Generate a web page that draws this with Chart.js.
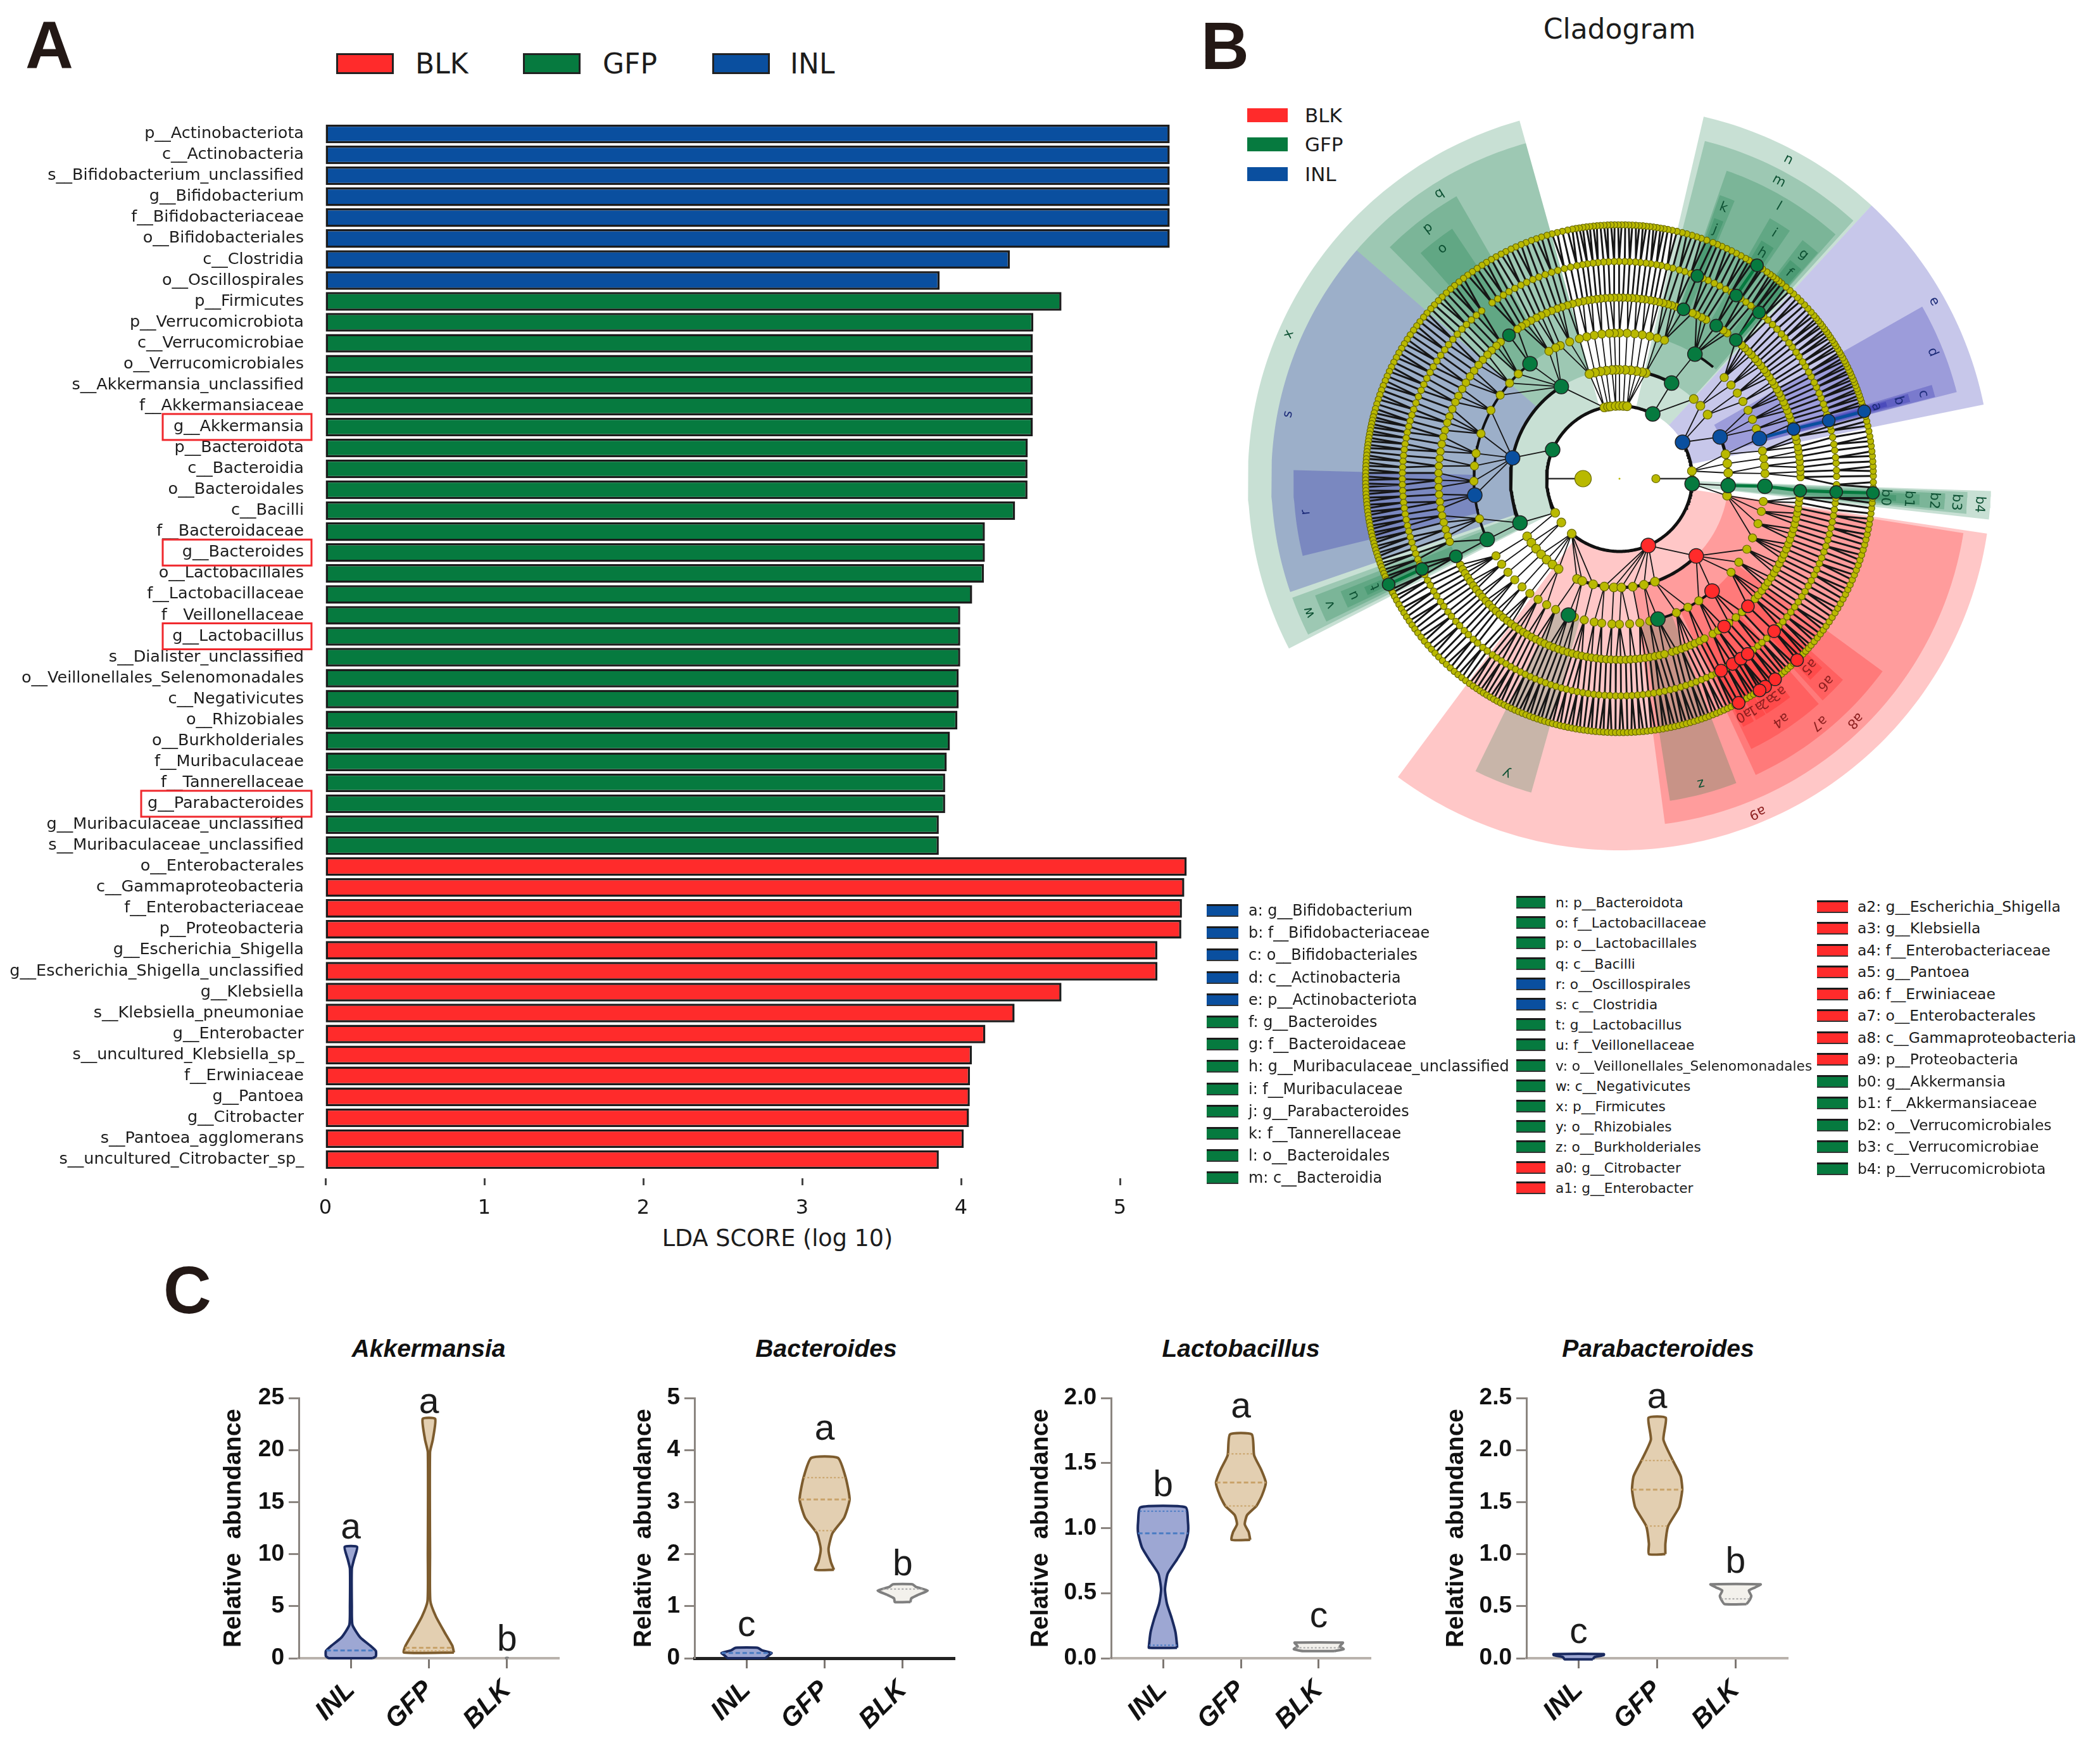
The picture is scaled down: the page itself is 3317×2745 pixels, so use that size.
<!DOCTYPE html>
<html>
<head>
<meta charset="utf-8">
<title>LEfSe and relative abundance</title>
<script src="https://cdn.jsdelivr.net/npm/chart.js@4"></script>
<style>
  html, body { margin: 0; background: #fff; }
  #page { position: relative; width: 3317px; height: 2745px; overflow: hidden; background: #fff; }
  #page canvas { position: absolute; }
  .txt { position: absolute; white-space: pre; line-height: 1; color: #1c1c1c; transform: translateY(-50%); }
  .mid { transform: translate(-50%, -50%); }
  .box { position: absolute; box-sizing: border-box; }
</style>
</head>
<body>
<div id="page"></div>
<script>
// panel A: LDA scores
const inlTaxa = ["p__Actinobacteriota", "c__Actinobacteria", "s__Bifidobacterium_unclassified", "g__Bifidobacterium", "f__Bifidobacteriaceae", "o__Bifidobacteriales", "c__Clostridia", "o__Oscillospirales"];
const inlScores = [5.313, 5.313, 5.313, 5.313, 5.313, 5.313, 4.307, 3.865];
const gfpTaxa = ["p__Firmicutes", "p__Verrucomicrobiota", "c__Verrucomicrobiae", "o__Verrucomicrobiales", "s__Akkermansia_unclassified", "f__Akkermansiaceae", "g__Akkermansia", "p__Bacteroidota", "c__Bacteroidia", "o__Bacteroidales", "c__Bacilli", "f__Bacteroidaceae", "g__Bacteroides", "o__Lactobacillales", "f__Lactobacillaceae", "f__Veillonellaceae", "g__Lactobacillus", "s__Dialister_unclassified", "o__Veillonellales_Selenomonadales", "c__Negativicutes", "o__Rhizobiales", "o__Burkholderiales", "f__Muribaculaceae", "f__Tannerellaceae", "g__Parabacteroides", "g__Muribaculaceae_unclassified", "s__Muribaculaceae_unclassified"];
const gfpScores = [4.632, 4.455, 4.452, 4.452, 4.452, 4.452, 4.452, 4.42, 4.418, 4.418, 4.34, 4.15, 4.15, 4.144, 4.07, 3.995, 3.995, 3.995, 3.985, 3.985, 3.977, 3.93, 3.91, 3.9, 3.9, 3.86, 3.86];
const blkTaxa = ["o__Enterobacterales", "c__Gammaproteobacteria", "f__Enterobacteriaceae", "p__Proteobacteria", "g__Escherichia_Shigella", "g__Escherichia_Shigella_unclassified", "g__Klebsiella", "s__Klebsiella_pneumoniae", "g__Enterobacter", "s__uncultured_Klebsiella_sp_", "f__Erwiniaceae", "g__Pantoea", "g__Citrobacter", "s__Pantoea_agglomerans", "s__uncultured_Citrobacter_sp_"];
const blkScores = [5.42, 5.405, 5.39, 5.386, 5.235, 5.236, 4.632, 4.337, 4.153, 4.068, 4.056, 4.055, 4.05, 4.017, 3.86];
const ldaTicks = [0, 1, 2, 3, 4, 5];
const boxedTaxa = ["g__Akkermansia", "g__Bacteroides", "g__Lactobacillus", "g__Parabacteroides"];

// panel B: key of the cladogram
const keyColA = ["a: g__Bifidobacterium", "b: f__Bifidobacteriaceae", "c: o__Bifidobacteriales", "d: c__Actinobacteria", "e: p__Actinobacteriota", "f: g__Bacteroides", "g: f__Bacteroidaceae", "h: g__Muribaculaceae_unclassified", "i: f__Muribaculaceae", "j: g__Parabacteroides", "k: f__Tannerellaceae", "l: o__Bacteroidales", "m: c__Bacteroidia"];
const keyColAGroups = "IIIIIGGGGGGGG";
const keyColB = ["n: p__Bacteroidota", "o: f__Lactobacillaceae", "p: o__Lactobacillales", "q: c__Bacilli", "r: o__Oscillospirales", "s: c__Clostridia", "t: g__Lactobacillus", "u: f__Veillonellaceae", "v: o__Veillonellales_Selenomonadales", "w: c__Negativicutes", "x: p__Firmicutes", "y: o__Rhizobiales", "z: o__Burkholderiales", "a0: g__Citrobacter", "a1: g__Enterobacter"];
const keyColBGroups = "GGGGIIGGGGGGGBB";
const keyColC = ["a2: g__Escherichia_Shigella", "a3: g__Klebsiella", "a4: f__Enterobacteriaceae", "a5: g__Pantoea", "a6: f__Erwiniaceae", "a7: o__Enterobacterales", "a8: c__Gammaproteobacteria", "a9: p__Proteobacteria", "b0: g__Akkermansia", "b1: f__Akkermansiaceae", "b2: o__Verrucomicrobiales", "b3: c__Verrucomicrobiae", "b4: p__Verrucomicrobiota"];
const keyColCGroups = "BBBBBBBBGGGGG";

// cladogram clades: label, group, from degree, to degree, tree level
const cladeWedges = [
  ["e", "I", 11.5, 47.3, 2], ["d", "I", 14.4, 29.6, 3], ["c", "I", 14.5, 16.7, 4], ["b", "I", 14.8, 16.4, 5], ["a", "I", 15.1, 16.1, 6],
  ["n", "G", 47.3, 76.9, 2], ["m", "G", 47.8, 75.8, 3], ["l", "G", 48.5, 70.8, 4], ["k", "G", 67.5, 70.5, 5], ["j", "G", 68, 70, 6], ["i", "G", 55.5, 60, 5], ["h", "G", 56.2, 59.2, 6], ["g", "G", 48.7, 52.5, 5], ["f", "G", 49, 52, 6],
  ["x", "G", 105.6, 207.2, 2], ["s", "I", 139, 199, 3], ["r", "I", 178.5, 193.7, 4], ["q", "G", 105.6, 139, 3], ["p", "G", 120, 134.8, 4], ["o", "G", 123.8, 131.4, 5],
  ["w", "G", 200, 206.6, 3], ["v", "G", 201, 206, 4], ["u", "G", 202, 205.4, 5], ["t", "G", 203, 204.8, 6],
  ["a9", "B", 233.4, 351.5, 2], ["y", "G", 243.8, 254.3, 4], ["a8", "B", 277.5, 351, 3], ["z", "G", 278.9, 291, 4], ["a7", "B", 294.7, 323.8, 4],
  ["a4", "B", 296, 311.5, 5], ["a6", "B", 312.5, 318, 5], ["a5", "B", 313.5, 317, 6], ["a3", "B", 305, 308, 6], ["a2", "B", 302, 305, 6], ["a1", "B", 299.5, 301.8, 6], ["a0", "B", 296.5, 299, 6],
  ["b4", "G", 353.7, 358.1, 2], ["b3", "G", 354.2, 357.8, 3], ["b2", "G", 354.6, 357.4, 4], ["b1", "G", 355, 357, 5], ["b0", "G", 355.4, 356.6, 6]
];
// bold curves of the tree: level, from degree, to degree
const cladeArcs = [[2, 58, 208], [2, 229, 356], [2, -10, 30], [3, 122, 204], [3, 250, 315], [3, 61, 84], [3, -5, 22], [4, 128, 205], [4, 285, 310], [4, 50, 59], [5, 305, 316]];

// biomarker nodes: level, degree
const inlNodes = [[2, 30], [3, 22.5], [4, 16], [5, 15.9], [6, 15.5], [7, 15.4], [3, 169], [4, 186.5]];
const gfpNodes = [[2, 156.6], [2, 62.8], [2, 356], [3, 122.3], [3, 61.4], [3, 204], [3, 356.4], [4, 127.9], [4, 58.8], [4, 204.7], [4, 357], [4, 285.3], [4, 249.5], [5, 127.6], [5, 69.3], [5, 57.7], [5, 50], [5, 205.4], [5, 356.2], [6, 204.6], [6, 69], [6, 57.5], [6, 50], [6, 356.5], [7, 204.6], [7, 57.2], [7, 356.8]];
const blkNodes = [[2, 293.3], [3, 314.8], [4, 309.5], [5, 315.2], [5, 305.3], [6, 315.4], [6, 297.9], [6, 301.4], [6, 304], [6, 306.2], [7, 314.4], [7, 307.8], [7, 305], [7, 303.5], [7, 298]];
// branches drawn in the group colour: child level, child degree, parent degree, group
const colouredBranches = [[5, 15.9, 16, "I"], [6, 15.5, 15.9, "I"], [7, 15.4, 15.5, "I"], [4, 357, 356.4, "G"], [5, 356.2, 357, "G"], [6, 356.5, 356.2, "G"], [7, 356.8, 356.5, "G"], [7, 204.6, 204.6, "G"], [7, 57.2, 57.5, "G"], [6, 50, 50, "G"]];

// other nodes of each tree level, in degrees
const kingdomNodes = [180, 0];
const phylumNodes = [6, 359, 102, 99, 97, 93, 90, 87, 84, 208, 217, 229];
const classNodes = [3, 8, 13, 36, 42, 47, 76, 78, 81, 84, 87, 90, 92, 94, 97, 100, 103, 106, 212, 216, 220, 224, 228, 232, 236, 247, 250, 256, 262, 267, 271, 277, 283, 289, 351];
const orderNodes = [2, 5, 8, 11, 20, 24, 28, 32, 36, 40, 44, 72, 75, 78, 81, 84, 87, 90, 92, 94, 97, 100, 103, 106, 110, 114, 116, 119, 134, 139, 145, 152, 162, 170, 175, 181, 196, 212, 216, 220, 224, 228, 232, 236, 240, 244, 252, 256, 260, 263, 267, 270, 274, 278, 282, 293, 298, 303, 320, 325, 331, 336, 342, 347, 351];
const familyNodes = [0.5, 2.2, 3.6, 5.4, 7, 8.7, 10.1, 12, 13.4, 17.6, 19.2, 20.5, 22.1, 23.6, 25, 26.7, 28.1, 29.6, 31.2, 32.5, 34.1, 35.7, 37, 38.6, 40.1, 41.5, 43.2, 44.6, 46.2, 47.5, 53.5, 55, 61.4, 63, 64.8, 66.2, 71.8, 73.2, 74.5, 76, 77.4, 78.9, 80.2, 81.8, 83.1, 84.6, 86, 87.4, 88.9, 90.2, 91.7, 93, 94.5, 95.9, 97.3, 98.8, 100.1, 101.6, 103.2, 105, 106.7, 108.5, 110.1, 112, 113.8, 115.6, 117.3, 119.2, 121, 122.7, 124.3, 131, 132.8, 134.9, 136.8, 139, 141.1, 143.4, 145.6, 148, 150.3, 152.8, 155, 157.4, 159.9, 162, 164.5, 166.7, 169, 171.4, 173.6, 176, 178.2, 180.5, 182.7, 185, 187.3, 189.5, 191.8, 194, 196.3, 198.5, 200.4, 208.4, 210, 211.5, 213.1, 214.6, 216.2, 217.7, 219.3, 220.8, 222.4, 223.9, 225.5, 227, 228.6, 230.1, 231.7, 233.2, 234.8, 236.3, 237.9, 239.4, 241, 242.5, 244.1, 245.6, 247.2, 248.7, 250.3, 251.8, 253.4, 254.9, 256.5, 258, 259.6, 261.1, 262.7, 264.2, 265.8, 267.3, 268.9, 270.4, 272, 273.5, 275.1, 276.6, 278.2, 279.7, 281.3, 282.8, 284.4, 286.9, 288.4, 290, 291.5, 293.1, 294.6, 296.3, 298, 301, 303, 307.2, 310, 312.6, 318.4, 320, 321.8, 323.5, 325.1, 326.9, 328.6, 330.2, 332, 333.7, 335.3, 337.1, 338.8, 340.4, 342.2, 343.9, 345.5, 347.3, 349, 350.6, 352.4, 354];
const genusNodes = [0.6, 2.2, 4.1, 5.6, 7.5, 9.1, 11, 12.8, 14, 17.2, 18.7, 20.1, 21.8, 23.2, 24.9, 26.3, 28, 29.4, 31.1, 32.5, 34.2, 35.6, 37.3, 38.7, 40.4, 41.8, 43.5, 45.2, 46.9, 48.4, 51.3, 52.8, 54.4, 56, 59, 60.7, 62.5, 64.1, 65.9, 67.4, 70.8, 72.5, 74, 75.8, 77.3, 78.9, 80.2, 81.7, 83, 84.5, 85.8, 87.3, 88.6, 90.1, 91.4, 92.9, 94.2, 95.7, 97, 98.5, 99.8, 101.3, 103, 104.7, 106.5, 108.2, 110, 111.8, 113.5, 115.3, 117, 118.8, 120.6, 122.3, 124.1, 125.9, 129.4, 131.2, 133, 134.8, 136.5, 138.3, 140.1, 141.9, 143.6, 145.4, 147.2, 149, 150.7, 152.5, 154.3, 156, 157.8, 159.6, 161.4, 163, 164.6, 166.1, 167.7, 169.2, 170.8, 172.3, 173.9, 175.4, 177, 178.5, 180.1, 181.6, 183.2, 184.7, 186.3, 187.8, 189.4, 190.9, 192.5, 194, 195.6, 197.1, 198.7, 200.2, 201.8, 203.2, 206.2, 207.9, 209.4, 211.2, 212.7, 214.5, 216, 217.8, 219.3, 221.1, 222.6, 224.4, 225.9, 227.7, 229.2, 231, 232.5, 234.2, 235.6, 237.1, 238.5, 240, 241.4, 242.9, 244.3, 245.8, 247.2, 248.7, 250.1, 251.6, 253, 254.5, 255.9, 257.4, 258.8, 260.3, 261.7, 263.2, 264.6, 266.1, 267.5, 269, 270.4, 271.9, 273.3, 274.8, 276.2, 277.7, 279.1, 280.6, 282, 283.5, 284.9, 286.4, 287.8, 289.3, 290.7, 292.2, 293.6, 295.1, 296.5, 299.6, 302.8, 308, 309.6, 311, 312.7, 317.2, 318.8, 320.5, 322.1, 323.8, 325.4, 327.1, 328.7, 330.4, 332, 333.7, 335.3, 337, 338.6, 340.3, 341.9, 343.6, 345.2, 346.9, 348.5, 350.2, 351.8, 353.5, 354.9, 358.4];
const speciesNodes = [0.6, 1.7, 2.8, 3.9, 5.1, 6.2, 7.4, 8.5, 9.6, 10.8, 12, 13.1, 14.2, 16.8, 17.6, 18.4, 19.2, 20, 20.7, 21.5, 22.3, 23, 23.8, 24.6, 25.3, 26.1, 26.9, 27.6, 28.4, 29.2, 29.9, 30.7, 31.5, 32.2, 33, 33.8, 34.6, 35.3, 36.1, 36.9, 37.6, 38.4, 39.2, 40, 41, 42.1, 43.2, 44.4, 45.5, 46.7, 47.8, 49, 50.3, 51.1, 51.9, 52.8, 53.6, 54.5, 55.7, 56.3, 58.4, 59.3, 60.2, 61.4, 62.6, 63.8, 65, 66.2, 67.3, 68.4, 69.9, 71.2, 72.3, 73.4, 74.6, 75.7, 76.9, 78, 79, 79.9, 80.7, 81.5, 82.3, 83.1, 83.9, 84.7, 85.5, 86.3, 87.1, 87.9, 88.7, 89.5, 90.3, 91.1, 91.9, 92.7, 93.5, 94.3, 95.1, 95.9, 96.7, 97.5, 98.3, 99.1, 99.9, 100.7, 101.8, 103, 104.2, 105.4, 106.6, 107.9, 109.1, 110.3, 111.6, 112.8, 114.1, 115.3, 116.6, 117.8, 119.1, 120.3, 121.6, 122.8, 124.1, 125.4, 126.7, 127.9, 129.2, 130.5, 131.7, 133, 134.3, 135.5, 136.8, 138, 139.3, 140.5, 141.8, 143, 144.2, 145.5, 146.7, 147.9, 149.1, 150.3, 151.5, 152.7, 153.9, 155, 156.2, 157.3, 158.5, 159.6, 160.7, 161.8, 162.9, 164, 165, 165.9, 166.7, 167.5, 168.3, 169.1, 169.9, 170.7, 171.5, 172.3, 173.1, 173.9, 174.7, 175.5, 176.3, 177.1, 177.9, 178.7, 179.5, 180.3, 181.1, 181.9, 182.7, 183.5, 184.3, 185.1, 185.9, 186.7, 187.5, 188.3, 189.1, 189.9, 190.7, 191.5, 192.3, 193.1, 193.9, 194.7, 195.5, 196.3, 197.1, 197.9, 198.7, 199.5, 200.3, 201.1, 201.9, 202.7, 203.5, 205.9, 206.7, 207.6, 208.6, 209.7, 210.8, 211.9, 213, 214.1, 215.2, 216.3, 217.4, 218.6, 219.8, 221, 222.2, 223.4, 224.6, 225.8, 227, 228.2, 229.4, 230.5, 231.6, 232.7, 233.8, 234.8, 235.8, 236.7, 237.6, 238.5, 239.4, 240.3, 241.2, 242.1, 243, 243.9, 244.8, 245.7, 246.6, 247.5, 248.4, 249.3, 250.2, 251.1, 252, 252.9, 253.8, 254.7, 255.6, 256.5, 257.4, 258.3, 259.2, 260.1, 261, 261.9, 262.8, 263.7, 264.6, 265.5, 266.4, 267.3, 268.2, 269.1, 270, 270.9, 271.8, 272.7, 273.6, 274.5, 275.4, 276.3, 277.2, 278.1, 279, 279.9, 280.8, 281.7, 282.6, 283.5, 284.4, 285.3, 286.2, 287.1, 288, 288.9, 289.8, 290.7, 291.6, 292.5, 293.4, 294.3, 295.2, 296.1, 297, 299.2, 300.1, 301, 301.9, 302.6, 304.2, 306.1, 306.9, 308.8, 309.7, 310.6, 311.5, 312.4, 313.3, 315.4, 316.3, 317.2, 318.1, 319, 320.1, 321.2, 322.3, 323.4, 324.5, 325.7, 326.9, 328.1, 329.3, 330.5, 331.7, 332.9, 334.1, 335.3, 336.5, 337.7, 338.9, 340.1, 341.3, 342.5, 343.7, 344.9, 346.1, 347.3, 348.5, 349.7, 350.9, 352.1, 353.3, 354.5, 355.6, 358, 359.2];

// panel C: violins, outline as level and half width in category units
const groups = ["INL", "GFP", "BLK"];

const akkTicks = [0, 5, 10, 15, 20, 25];
const akkInlY = [0, 0.2, 0.7, 1.2, 2, 3.2, 5, 8.6, 9.5, 10.7];
const akkInlW = [0.28, 0.32, 0.32, 0.25, 0.12, 0.02, 0.012, 0.012, 0.04, 0.08];
const akkInlQ = [0.75];
const akkGfpY = [0.55, 1.2, 2.5, 4, 5.5, 10, 19.8, 21, 23];
const akkGfpW = [0.32, 0.3, 0.2, 0.09, 0.018, 0.014, 0.014, 0.05, 0.08];
const akkGfpQ = [0.7, 1];
const akkBlkY = [0, 0.03];
const akkBlkW = [0.01, 0.01];
const akkBlkQ = [];
const akkLetters = ["a", "a", "b"];
const akkLetterY = [11.5, 23.56, 0.72];

const bacTicks = [0, 1, 2, 3, 4, 5];
const bacInlY = [0, 0.05, 0.1, 0.15, 0.2];
const bacInlW = [0.24, 0.28, 0.32, 0.2, 0.14];
const bacInlQ = [0.1];
const bacGfpY = [1.7, 1.85, 2.1, 2.4, 2.7, 3.05, 3.47, 3.85];
const bacGfpW = [0.12, 0.08, 0.05, 0.1, 0.25, 0.32, 0.27, 0.17];
const bacGfpQ = [2.45, 3.05, 3.47];
const bacBlkY = [1.08, 1.15, 1.22, 1.3, 1.37, 1.42];
const bacBlkW = [0.1, 0.11, 0.2, 0.32, 0.17, 0.125];
const bacBlkQ = [1.33];
const bacLetters = ["c", "a", "b"];
const bacLetterY = [0.43, 4.2, 1.59];

const lacTicks = [0, 0.5, 1, 1.5, 2];
const lacInlY = [0.08, 0.1, 0.2, 0.31, 0.42, 0.53, 0.65, 0.76, 0.85, 0.96, 1.05, 1.16];
const lacInlW = [0.18, 0.18, 0.16, 0.11, 0.05, 0.025, 0.06, 0.18, 0.27, 0.32, 0.32, 0.29];
const lacInlQ = [0.1, 0.96, 1.13];
const lacGfpY = [0.91, 0.97, 1.03, 1.1, 1.17, 1.25, 1.35, 1.45, 1.56, 1.72];
const lacGfpW = [0.12, 0.1, 0.05, 0.08, 0.2, 0.27, 0.32, 0.26, 0.17, 0.14];
const lacGfpQ = [1.17, 1.35, 1.57];
const lacBlkY = [0.055, 0.07, 0.09, 0.105, 0.12];
const lacBlkW = [0.2, 0.32, 0.27, 0.29, 0.31];
const lacBlkQ = [0.08];
const lacLetters = ["b", "a", "c"];
const lacLetterY = [1.245, 1.85, 0.24];

const parTicks = [0, 0.5, 1, 1.5, 2, 2.5];
const parInlY = [-0.01, 0.01, 0.03, 0.04];
const parInlW = [0.18, 0.2, 0.32, 0.32];
const parInlQ = [];
const parGfpY = [1, 1.1, 1.27, 1.45, 1.62, 1.75, 1.9, 2.1, 2.31];
const parGfpW = [0.105, 0.105, 0.14, 0.28, 0.32, 0.3, 0.2, 0.08, 0.11];
const parGfpQ = [1.27, 1.62, 1.9];
const parBlkY = [0.52, 0.56, 0.6, 0.65, 0.68, 0.71];
const parBlkW = [0.14, 0.18, 0.2, 0.17, 0.25, 0.32];
const parBlkQ = [0.57];
const parLetters = ["c", "a", "b"];
const parLetterY = [0.144, 2.4, 0.823];

Chart.defaults.animation = false;
Chart.defaults.devicePixelRatio = 1;
Chart.defaults.responsive = false;
Chart.defaults.layout.autoPadding = false;
Chart.defaults.plugins.legend.display = false;
Chart.defaults.plugins.tooltip.enabled = false;

const RED = "#ff2b2b", GREEN = "#067a3f", BLUE = "#0a4f9f";
const groupColor = { I: BLUE, G: GREEN, B: RED };
const page = document.getElementById("page");

function addCanvas(left, top, width, height) {
  const c = document.createElement("canvas");
  c.width = width;
  c.height = height;
  c.style.left = left + "px";
  c.style.top = top + "px";
  page.appendChild(c);
  return c.getContext("2d");
}

function addText(text, x, y, font, extra) {
  const el = document.createElement("div");
  el.className = "txt" + (extra && extra.mid ? " mid" : "");
  el.textContent = text;
  el.style.left = x + "px";
  el.style.top = y + "px";
  el.style.font = font;
  if (extra && extra.color) el.style.color = extra.color;
  page.appendChild(el);
}

function addBox(x, y, w, h, color, border) {
  const el = document.createElement("div");
  el.className = "box";
  el.style.cssText = `left:${x}px;top:${y}px;width:${w}px;height:${h}px;background:${color};${border || ""}`;
  page.appendChild(el);
}

// panel letters
const letterFont = 'bold 105px "Liberation Sans"';
addText("A", 40, 72, letterFont, { color: "#231815" });
addText("B", 1897, 73, letterFont, { color: "#231815" });
addText("C", 258, 2038, letterFont, { color: "#231815" });

// ---------- panel A ----------
const blkLegendFont = '44px "DejaVu Sans"';
[["BLK", RED, 531, 656], ["GFP", GREEN, 826, 952], ["INL", BLUE, 1125, 1248]].forEach(([name, color, bx, tx]) => {
  addBox(bx, 84, 91, 33, color, "border:3px solid #222;");
  addText(name, tx, 100, blkLegendFont);
});
addText("LDA SCORE (log 10)", 1228, 1955, '36.6px "DejaVu Sans"', { mid: true });

const taxa = inlTaxa.concat(gfpTaxa, blkTaxa);
const pad = n => new Array(n).fill(null);

const boxLabels = {
  id: "boxLabels",
  afterDraw(chart) {
    const { ctx, scales: { y } } = chart;
    ctx.save();
    ctx.strokeStyle = "#f0282d";
    ctx.lineWidth = 3;
    boxedTaxa.forEach(name => {
      const py = y.getPixelForValue(taxa.indexOf(name));
      const left = name === "g__Parabacteroides" ? 223 : 257;
      ctx.strokeRect(left, py - 20.5, 492 - left, 41);
    });
    ctx.restore();
  }
};

// canvas starts high enough that the tick label padding does not push the plot area down
new Chart(addCanvas(0, 120, 1920, 1855), {
  type: "bar",
  data: {
    labels: taxa,
    datasets: [
      { label: "INL", data: inlScores, backgroundColor: BLUE },
      { label: "GFP", data: pad(inlTaxa.length).concat(gfpScores), backgroundColor: GREEN },
      { label: "BLK", data: pad(inlTaxa.length + gfpTaxa.length).concat(blkScores), backgroundColor: RED }
    ].map(d => Object.assign(d, { borderColor: "#1c1c1c", borderWidth: 3.5, borderSkipped: false, barPercentage: 0.89, categoryPercentage: 1 }))
  },
  options: {
    indexAxis: "y",
    layout: { padding: { top: 75, right: 25.5, left: 0, bottom: 0 } },
    scales: {
      y: {
        stacked: true,
        grid: { display: false, drawTicks: false },
        border: { display: false },
        afterFit: s => { s.width = 514; },
        ticks: { autoSkip: false, padding: 34, color: "#1c1c1c", font: { family: "DejaVu Sans", size: 25.5 } }
      },
      x: {
        stacked: true,
        min: 0,
        max: 5.5,
        afterBuildTicks: s => { s.ticks = ldaTicks.map(v => ({ value: v })); },
        afterFit: s => { s.height = 127; },
        border: { display: false },
        grid: { drawOnChartArea: false, tickLength: 24, tickColor: "#444", tickWidth: 3, tickBorderDash: [11, 13], tickBorderDashOffset: 11 },
        ticks: { padding: 17, color: "#1c1c1c", font: { family: "DejaVu Sans", size: 32 } }
      }
    }
  },
  plugins: [boxLabels]
});

// ---------- panel B ----------
addText("Cladogram", 2558, 45, '44px "DejaVu Sans"', { mid: true });
[["BLK", RED, 182], ["GFP", GREEN, 228], ["INL", BLUE, 275]].forEach(([name, color, y]) => {
  addBox(1970, y - 11, 64, 22, color);
  addText(name, 2061, y, '31px "DejaVu Sans"');
});

function addKey(list, groupsOf, sx, sw, tx, y0, step, size) {
  list.forEach((t, i) => {
    const y = y0 + i * step;
    addBox(sx, y - 10, sw, 20, groupColor[groupsOf[i]], "border-top:3px solid #1c1c1c;border-bottom:2px solid #333;");
    addText(t, tx, y, size + 'px "DejaVu Sans"');
  });
}
addKey(keyColA, keyColAGroups, 1906, 50, 1972, 1438, 35.2, 23.9);
addKey(keyColB, keyColBGroups, 2395, 46, 2457, 1425, 32.2, 21.7);
addKey(keyColC, keyColCGroups, 2870, 49, 2934, 1431.5, 34.5, 23.4);

const ringRadius = [0, 57.5, 115, 172, 230, 286, 343, 401];
const wedgeOuter = [0, 0, 587, 550, 515, 475, 438];
const polarAt = (r, deg) => ({ x: r * Math.cos(deg * Math.PI / 180), y: r * Math.sin(deg * Math.PI / 180) });
const levelNodes = [[0], kingdomNodes, phylumNodes, classNodes, orderNodes, familyNodes, genusNodes, speciesNodes];
const marked = inlNodes.map(n => n.concat("I")).concat(gfpNodes.map(n => n.concat("G")), blkNodes.map(n => n.concat("B")));
const allAt = level => levelNodes[level].concat(marked.filter(n => n[0] === level).map(n => n[1]));
const arcGap = (a, b) => Math.abs(((a - b + 540) % 360) - 180);
const nearest = (list, deg) => list.reduce((best, v) => arcGap(v, deg) < arcGap(best, deg) ? v : best, list[0]);
const BREAK = { x: NaN, y: NaN };

function arcPoints(r, from, to) {
  const pts = [];
  const n = Math.max(2, Math.ceil(Math.abs(to - from)));
  for (let i = 0; i <= n; i++) pts.push(polarAt(r, from + (to - from) * i / n));
  return pts;
}

function linkPoints(level) {
  const parents = allAt(level - 1);
  const pts = [];
  allAt(level).forEach(deg => {
    pts.push(polarAt(ringRadius[level - 1], nearest(parents, deg)), polarAt(ringRadius[level], deg), BREAK);
  });
  return pts;
}

const shade = { I: "rgba(0,0,160,0.22)", G: "rgba(5,113,60,0.22)", B: "rgba(255,0,0,0.22)" };
const inkOf = { I: "#1b2a78", G: "#0d5133", B: "#8c1f1f" };
const YELLOW = { pointBackgroundColor: "#b9b900", pointBorderColor: "#696900", pointBorderWidth: 1.2 };

// pushed in paint order, reversed at the end since Chart.js paints the first dataset last
const cladoSets = [];
cladeWedges.forEach(([label, group, from, to, level]) => {
  const pts = arcPoints(wedgeOuter[level], from, to).concat(arcPoints(ringRadius[level], to, from));
  pts.push(pts[0]);
  cladoSets.push({ label, data: pts, showLine: true, fill: "shape", backgroundColor: shade[group], borderWidth: 0, pointRadius: 0 });
});
[[3, 1.8], [4, 1.8], [5, 2.2], [6, 2.8], [7, 3]].forEach(([level, width]) => {
  cladoSets.push({ data: linkPoints(level), showLine: true, borderColor: "#161616", borderWidth: width, pointRadius: 0 });
});
const spokes = [];
kingdomNodes.forEach(deg => spokes.push(polarAt(ringRadius[1], deg), polarAt(ringRadius[2], deg), BREAK));
cladoSets.push({ data: spokes, showLine: true, borderColor: "#333", borderWidth: 2.5, pointRadius: 0 });
cladeArcs.forEach(([level, from, to]) => {
  cladoSets.push({ data: arcPoints(ringRadius[level], from, to), showLine: true, borderColor: "#111", borderWidth: level < 4 ? 5 : 4, pointRadius: 0 });
});
colouredBranches.forEach(([level, deg, parent, group]) => {
  cladoSets.push({ data: [polarAt(ringRadius[level - 1], parent), polarAt(ringRadius[level], deg)], showLine: true, borderColor: groupColor[group], borderWidth: 5, pointRadius: 0 });
});
[[7, 5], [6, 5.2], [5, 6], [4, 6.5], [3, 7], [2, 7]].forEach(([level, radius]) => {
  cladoSets.push(Object.assign({ data: levelNodes[level].map(d => polarAt(ringRadius[level], d)), pointRadius: radius }, YELLOW));
});
cladoSets.push(Object.assign({ data: [polarAt(57.5, 180)], pointRadius: 13 }, YELLOW));
cladoSets.push(Object.assign({ data: [polarAt(57.5, 0)], pointRadius: 6.5 }, YELLOW));
cladoSets.push({ data: [{ x: 0, y: 0 }], pointRadius: 1.5, pointBackgroundColor: "#b9b900", pointBorderWidth: 0 });
["I", "G", "B"].forEach(group => {
  [2, 3, 4, 5, 6, 7].forEach(level => {
    const pts = marked.filter(n => n[0] === level && n[2] === group).map(n => polarAt(ringRadius[level], n[1]));
    if (pts.length) cladoSets.push({ data: pts, pointRadius: level < 5 ? 11.5 : 10, pointBackgroundColor: groupColor[group], pointBorderColor: "#222", pointBorderWidth: 1.5 });
  });
});

const wedgeLabels = {
  id: "wedgeLabels",
  afterDatasetsDraw(chart) {
    const { ctx, scales: { x, y } } = chart;
    ctx.save();
    ctx.font = '21px "DejaVu Sans"';
    ctx.textAlign = "center";
    ctx.textBaseline = "middle";
    cladeWedges.forEach(([label, group, from, to, level]) => {
      const mid = (from + to) / 2;
      const at = polarAt(wedgeOuter[level] - 17, mid);
      ctx.save();
      ctx.translate(x.getPixelForValue(at.x), y.getPixelForValue(at.y));
      ctx.rotate((90 - mid) * Math.PI / 180);
      ctx.fillStyle = inkOf[group];
      ctx.fillText(label, 0, 0);
      ctx.restore();
    });
    ctx.restore();
  }
};

new Chart(addCanvas(1900, 0, 1417, 1400), {
  type: "scatter",
  data: { datasets: cladoSets.reverse() },
  options: {
    layout: { padding: 0 },
    scales: {
      x: { type: "linear", display: false, min: -658, max: 759 },
      y: { type: "linear", display: false, min: -644, max: 756 }
    }
  },
  plugins: [wedgeLabels]
});

// ---------- panel C ----------
const violinStyle = [
  { fill: "#9da7d3", line: "#1a2a60", mid: "#4a7cc4" },
  { fill: "#e3cfb1", line: "#7d5c2e", mid: "#c9a36a" },
  { fill: "#f3f1ec", line: "#7f7f7f", mid: "#a7a7a7" }
];

function outline(center, ys, ws) {
  const right = ys.map((y, i) => ({ x: center + ws[i], y }));
  const left = ys.map((y, i) => ({ x: center - ws[i], y })).reverse();
  const pts = right.concat(left);
  pts.push(pts[0]);
  return pts;
}

function widthAt(ys, ws, q) {
  for (let i = 1; i < ys.length; i++) {
    if (q <= ys[i]) return ws[i - 1] + (ws[i] - ws[i - 1]) * (q - ys[i - 1]) / (ys[i] - ys[i - 1]);
  }
  return ws[ws.length - 1];
}

function drawViolins(cfg) {
  const sets = [];
  const bottom = 2619, top = 2208;
  cfg.shapes.forEach(([ys, ws, qs], g) => {
    qs.forEach(q => {
      const w = widthAt(ys, ws, q);
      sets.push({ data: [{ x: g - w, y: q }, { x: g + w, y: q }], showLine: true, clip: false, borderColor: violinStyle[g].mid, borderWidth: q === cfg.medians[g] ? 3 : 2, borderDash: q === cfg.medians[g] ? [7, 4] : [3, 3], pointRadius: 0 });
    });
  });
  cfg.shapes.forEach(([ys, ws], g) => {
    sets.push({ data: outline(g, ys, ws), showLine: true, clip: false, fill: "shape", tension: 0.18, backgroundColor: violinStyle[g].fill, borderColor: violinStyle[g].line, borderWidth: 4, pointRadius: 0 });
  });

  const letterPlugin = {
    id: "letters",
    afterDatasetsDraw(chart) {
      const { ctx, scales: { x, y } } = chart;
      ctx.save();
      ctx.font = '57px "Liberation Sans"';
      ctx.textAlign = "center";
      ctx.textBaseline = "alphabetic";
      ctx.fillStyle = "#1c1c1c";
      cfg.letters.forEach((t, i) => ctx.fillText(t, x.getPixelForValue(i), y.getPixelForValue(cfg.letterY[i])));
      ctx.restore();
    }
  };

  const canvasLeft = cfg.axisX - cfg.axisGap - 23;
  const axisRight = cfg.axisX + cfg.plotWidth;
  new Chart(addCanvas(canvasLeft, 2170, axisRight - canvasLeft + 40, 575), {
    type: "scatter",
    data: { datasets: sets },
    options: {
      layout: { padding: { top: top - 2170, right: 40, left: 0, bottom: 0 } },
      scales: {
        x: {
          type: "linear",
          min: -0.667,
          max: 2.667,
          afterBuildTicks: s => { s.ticks = groups.map((_, i) => ({ value: i })); },
          afterFit: s => { s.height = 2745 - bottom; },
          border: cfg.dotted ? { color: "#222", width: 5, dash: [3, 6] } : { color: "#b9b2ac", width: 4 },
          grid: { drawOnChartArea: false, tickLength: 16, tickColor: "#7d7772", tickWidth: 3 },
          ticks: { autoSkip: false, minRotation: 45, maxRotation: 45, padding: 10, color: "#111", callback: v => groups[v], font: { family: "Liberation Sans", size: 42, style: "italic", weight: "bold" } }
        },
        y: {
          min: cfg.ticks[0],
          max: cfg.ticks[cfg.ticks.length - 1],
          afterBuildTicks: s => { s.ticks = cfg.ticks.map(v => ({ value: v })); },
          afterFit: s => { s.width = cfg.axisGap + 23; },
          border: { color: "#8b8580", width: 3 },
          grid: { drawOnChartArea: false, tickLength: 16, tickColor: "#8b8580", tickWidth: 3 },
          ticks: { padding: 7, color: "#111", callback: v => v.toFixed(cfg.decimals), font: { family: "Liberation Sans", size: 37, weight: "bold" } },
          title: { display: true, text: "Relative  abundance", color: "#111", padding: 0, font: { family: "Liberation Sans", size: 39, weight: "bold" } }
        }
      }
    },
    plugins: [letterPlugin]
  });
  addText(cfg.title, cfg.titleX, 2130, 'italic bold 39px "Liberation Sans"', { mid: true, color: "#111" });
}

drawViolins({ title: "Akkermansia", titleX: 677, axisX: 472, axisGap: 103, plotWidth: 411, ticks: akkTicks, decimals: 0, letters: akkLetters, letterY: akkLetterY, medians: [0.75, 1, null],
  shapes: [[akkInlY, akkInlW, akkInlQ], [akkGfpY, akkGfpW, akkGfpQ], [akkBlkY, akkBlkW, akkBlkQ]] });
drawViolins({ title: "Bacteroides", titleX: 1305, axisX: 1097, axisGap: 80, plotWidth: 411, dotted: true, ticks: bacTicks, decimals: 0, letters: bacLetters, letterY: bacLetterY, medians: [0.1, 3.05, null],
  shapes: [[bacInlY, bacInlW, bacInlQ], [bacGfpY, bacGfpW, bacGfpQ], [bacBlkY, bacBlkW, bacBlkQ]] });
drawViolins({ title: "Lactobacillus", titleX: 1960, axisX: 1755, axisGap: 111, plotWidth: 410, ticks: lacTicks, decimals: 1, letters: lacLetters, letterY: lacLetterY, medians: [0.96, 1.35, null],
  shapes: [[lacInlY, lacInlW, lacInlQ], [lacGfpY, lacGfpW, lacGfpQ], [lacBlkY, lacBlkW, lacBlkQ]] });
drawViolins({ title: "Parabacteroides", titleX: 2619, axisX: 2411, axisGap: 111, plotWidth: 413, ticks: parTicks, decimals: 1, letters: parLetters, letterY: parLetterY, medians: [null, 1.62, null],
  shapes: [[parInlY, parInlW, parInlQ], [parGfpY, parGfpW, parGfpQ], [parBlkY, parBlkW, parBlkQ]] });
</script>
</body>
</html>
